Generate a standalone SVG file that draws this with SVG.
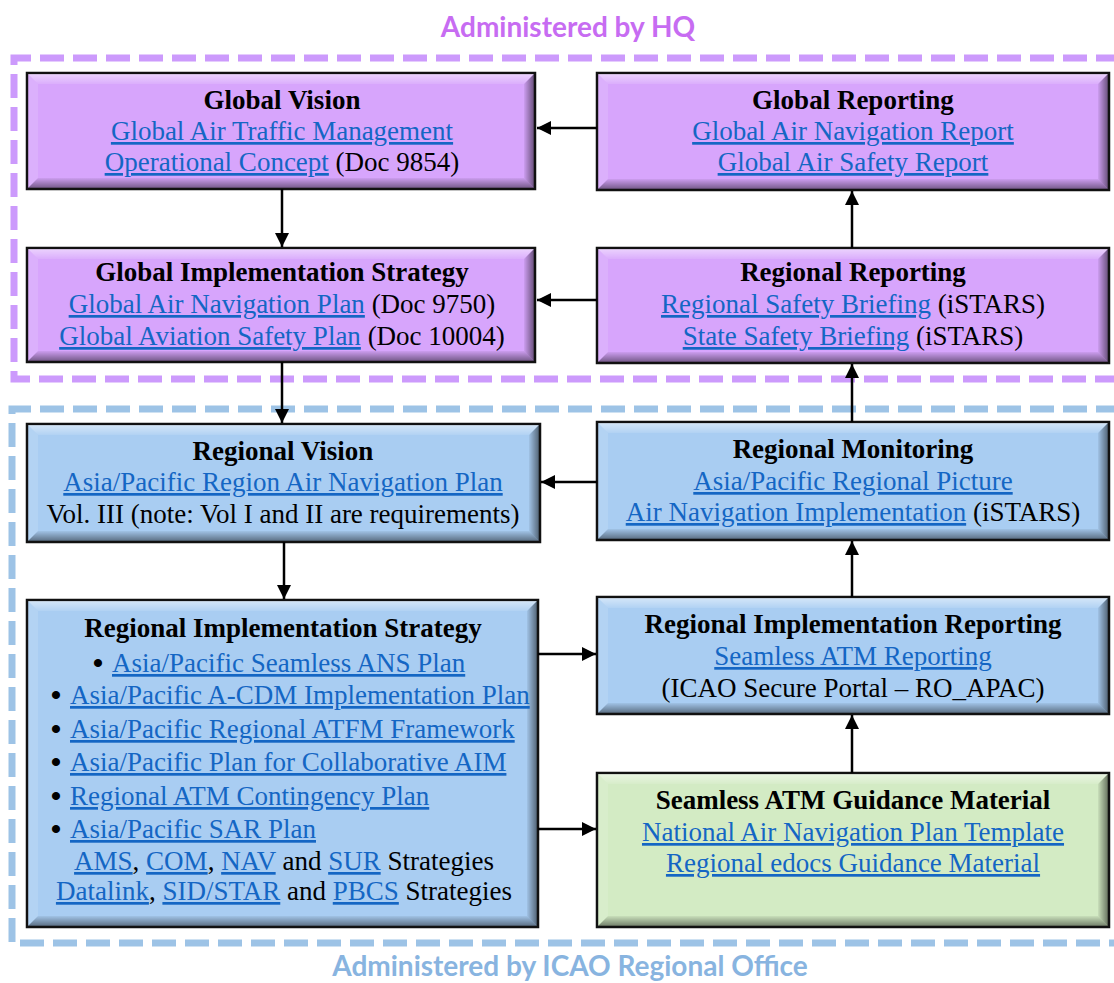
<svg xmlns="http://www.w3.org/2000/svg" width="1114" height="983" viewBox="0 0 1114 983">
<defs>
<style>
.t{font-family:"Liberation Serif","Times New Roman",serif;font-size:27px;fill:#000;text-anchor:middle}
.s{text-anchor:start}
.b{font-weight:bold}
.l{fill:#1466C4;text-decoration:underline}
.dot{font-family:"Liberation Serif",serif;font-size:30px;font-weight:bold;text-anchor:middle}
.hdr{font-family:Lato,"Open Sans",sans-serif;font-weight:bold;font-size:28px;text-anchor:middle}
.box{stroke:#111;stroke-width:2.5}
.pu{fill:#D7A5FC}
.bl{fill:#A9CDF2}
.gr{fill:#D3EBC4}
.bt{fill:url(#gT)}
.bL{fill:#fff;opacity:0.12}
.bb{fill:url(#gB)}
.bR{fill:url(#gR)}
.dash{fill:none;stroke-width:7;stroke-dasharray:24 9}
.conn{stroke:#000;stroke-width:2.5;fill:none;marker-end:url(#ah)}
</style>
<linearGradient id="gT" x1="0" y1="1" x2="0" y2="0"><stop offset="0" stop-color="#fff" stop-opacity="0.1"/><stop offset="1" stop-color="#fff" stop-opacity="0.5"/></linearGradient>
<linearGradient id="gB" x1="0" y1="0" x2="0" y2="1"><stop offset="0" stop-color="#000" stop-opacity="0.05"/><stop offset="1" stop-color="#000" stop-opacity="0.45"/></linearGradient>
<linearGradient id="gR" x1="0" y1="0" x2="1" y2="0"><stop offset="0" stop-color="#000" stop-opacity="0.05"/><stop offset="1" stop-color="#000" stop-opacity="0.5"/></linearGradient>
<marker id="ah" markerUnits="userSpaceOnUse" markerWidth="16" markerHeight="16" refX="14" refY="7" orient="auto">
<path d="M0,0 L14,7 L0,14 Z" fill="#000"/>
</marker>
</defs>
<rect width="1114" height="983" fill="#fff"/>

<g id="hq-region">
<text class="hdr" x="568" y="37" fill="#C76CF2">Administered by HQ</text>
<path class="dash" d="M1120,58 H14 V379 H1120" stroke="#CC9AFC"/>
</g>
<g id="ro-region">
<path class="dash" d="M1120,409 H12 V943 H1120" stroke="#9DC3E6"/>
<text class="hdr" x="570" y="976" fill="#88B4E0">Administered by ICAO Regional Office</text>
</g>

<g id="global-vision">
<rect class="box pu" x="27" y="73" width="508" height="116"/>
<polygon class="bt" points="28,74 534,74 524,84 38,84"/>
<polygon class="bL" points="28,74 38,84 38,178 28,188"/>
<polygon class="bb" points="28,188 38,178 524,178 534,188"/>
<polygon class="bR" points="534,74 534,188 524,178 524,84"/>
<text class="t b" x="282" y="109">Global Vision</text>
<text class="t" x="282" y="140"><tspan class="l">Global Air Traffic Management</tspan></text>
<text class="t" x="282" y="171"><tspan class="l">Operational Concept</tspan> (Doc 9854)</text>
</g>

<g id="global-reporting">
<rect class="box pu" x="597" y="73" width="512" height="117"/>
<polygon class="bt" points="598,74 1108,74 1098,84 608,84"/>
<polygon class="bL" points="598,74 608,84 608,179 598,189"/>
<polygon class="bb" points="598,189 608,179 1098,179 1108,189"/>
<polygon class="bR" points="1108,74 1108,189 1098,179 1098,84"/>
<text class="t b" x="853" y="109">Global Reporting</text>
<text class="t" x="853" y="140"><tspan class="l">Global Air Navigation Report</tspan></text>
<text class="t" x="853" y="171"><tspan class="l">Global Air Safety Report</tspan></text>
</g>

<g id="global-implementation-strategy">
<rect class="box pu" x="27" y="248" width="508" height="114"/>
<polygon class="bt" points="28,249 534,249 524,259 38,259"/>
<polygon class="bL" points="28,249 38,259 38,351 28,361"/>
<polygon class="bb" points="28,361 38,351 524,351 534,361"/>
<polygon class="bR" points="534,249 534,361 524,351 524,259"/>
<text class="t b" x="282" y="281">Global Implementation Strategy</text>
<text class="t" x="282" y="313"><tspan class="l">Global Air Navigation Plan</tspan> (Doc 9750)</text>
<text class="t" x="282" y="345"><tspan class="l">Global Aviation Safety Plan</tspan> (Doc 10004)</text>
</g>

<g id="regional-reporting">
<rect class="box pu" x="597" y="248" width="512" height="115"/>
<polygon class="bt" points="598,249 1108,249 1098,259 608,259"/>
<polygon class="bL" points="598,249 608,259 608,352 598,362"/>
<polygon class="bb" points="598,362 608,352 1098,352 1108,362"/>
<polygon class="bR" points="1108,249 1108,362 1098,352 1098,259"/>
<text class="t b" x="853" y="281">Regional Reporting</text>
<text class="t" x="853" y="313"><tspan class="l">Regional Safety Briefing</tspan> (iSTARS)</text>
<text class="t" x="853" y="345"><tspan class="l">State Safety Briefing</tspan> (iSTARS)</text>
</g>

<g id="regional-vision">
<rect class="box bl" x="27" y="424" width="513" height="118"/>
<polygon class="bt" points="28,425 539,425 529,435 38,435"/>
<polygon class="bL" points="28,425 38,435 38,531 28,541"/>
<polygon class="bb" points="28,541 38,531 529,531 539,541"/>
<polygon class="bR" points="539,425 539,541 529,531 529,435"/>
<text class="t b" x="283" y="460">Regional Vision</text>
<text class="t" x="283" y="491"><tspan class="l">Asia/Pacific Region Air Navigation Plan</tspan></text>
<text class="t" x="283" y="523">Vol. III (note: Vol I and II are requirements)</text>
</g>

<g id="regional-monitoring">
<rect class="box bl" x="597" y="422" width="512" height="118"/>
<polygon class="bt" points="598,423 1108,423 1098,433 608,433"/>
<polygon class="bL" points="598,423 608,433 608,529 598,539"/>
<polygon class="bb" points="598,539 608,529 1098,529 1108,539"/>
<polygon class="bR" points="1108,423 1108,539 1098,529 1098,433"/>
<text class="t b" x="853" y="458">Regional Monitoring</text>
<text class="t" x="853" y="490"><tspan class="l">Asia/Pacific Regional Picture</tspan></text>
<text class="t" x="853" y="521"><tspan class="l">Air Navigation Implementation</tspan> (iSTARS)</text>
</g>

<g id="regional-implementation-strategy">
<rect class="box bl" x="27" y="600" width="511" height="327"/>
<polygon class="bt" points="28,601 537,601 527,611 38,611"/>
<polygon class="bL" points="28,601 38,611 38,916 28,926"/>
<polygon class="bb" points="28,926 38,916 527,916 537,926"/>
<polygon class="bR" points="537,601 537,926 527,916 527,611"/>
<text class="t b" x="283" y="637">Regional Implementation Strategy</text>
<text class="dot" x="98" y="673">•</text>
<text class="t s" x="112" y="672"><tspan class="l">Asia/Pacific Seamless ANS Plan</tspan></text>
<text class="dot" x="56" y="705">•</text>
<text class="t s" x="70" y="704"><tspan class="l">Asia/Pacific A-CDM Implementation Plan</tspan></text>
<text class="dot" x="56" y="739">•</text>
<text class="t s" x="70" y="738"><tspan class="l">Asia/Pacific Regional ATFM Framework</tspan></text>
<text class="dot" x="56" y="772">•</text>
<text class="t s" x="70" y="771"><tspan class="l">Asia/Pacific Plan for Collaborative AIM</tspan></text>
<text class="dot" x="56" y="806">•</text>
<text class="t s" x="70" y="805"><tspan class="l">Regional ATM Contingency Plan</tspan></text>
<text class="dot" x="56" y="839">•</text>
<text class="t s" x="70" y="838"><tspan class="l">Asia/Pacific SAR Plan</tspan></text>
<text class="t" x="284" y="870"><tspan class="l">AMS</tspan>, <tspan class="l">COM</tspan>, <tspan class="l">NAV</tspan> and <tspan class="l">SUR</tspan> Strategies</text>
<text class="t" x="284" y="900"><tspan class="l">Datalink</tspan>, <tspan class="l">SID/STAR</tspan> and <tspan class="l">PBCS</tspan> Strategies</text>
</g>

<g id="regional-implementation-reporting">
<rect class="box bl" x="597" y="597" width="512" height="117"/>
<polygon class="bt" points="598,598 1108,598 1098,608 608,608"/>
<polygon class="bL" points="598,598 608,608 608,703 598,713"/>
<polygon class="bb" points="598,713 608,703 1098,703 1108,713"/>
<polygon class="bR" points="1108,598 1108,713 1098,703 1098,608"/>
<text class="t b" x="853" y="633">Regional Implementation Reporting</text>
<text class="t" x="853" y="665"><tspan class="l">Seamless ATM Reporting</tspan></text>
<text class="t" x="853" y="697">(ICAO Secure Portal – RO_APAC)</text>
</g>

<g id="seamless-atm-guidance">
<rect class="box gr" x="597" y="773" width="512" height="154"/>
<polygon class="bt" points="598,774 1108,774 1098,784 608,784"/>
<polygon class="bL" points="598,774 608,784 608,916 598,926"/>
<polygon class="bb" points="598,926 608,916 1098,916 1108,926"/>
<polygon class="bR" points="1108,774 1108,926 1098,916 1098,784"/>
<text class="t b" x="853" y="809">Seamless ATM Guidance Material</text>
<text class="t" x="853" y="841"><tspan class="l">National Air Navigation Plan Template</tspan></text>
<text class="t" x="853" y="872"><tspan class="l">Regional edocs Guidance Material</tspan></text>
</g>

<g id="connectors">
<path class="conn" d="M597,128 H537"/>
<path class="conn" d="M282,189 V247"/>
<path class="conn" d="M852,248 V191"/>
<path class="conn" d="M597,300 H537"/>
<path class="conn" d="M282,362 V423"/>
<path class="conn" d="M852,422 V364"/>
<path class="conn" d="M597,482 H541"/>
<path class="conn" d="M284,542 V599"/>
<path class="conn" d="M538,654 H596"/>
<path class="conn" d="M538,829 H596"/>
<path class="conn" d="M852,773 V715"/>
<path class="conn" d="M852,597 V541"/>
</g>
</svg>
